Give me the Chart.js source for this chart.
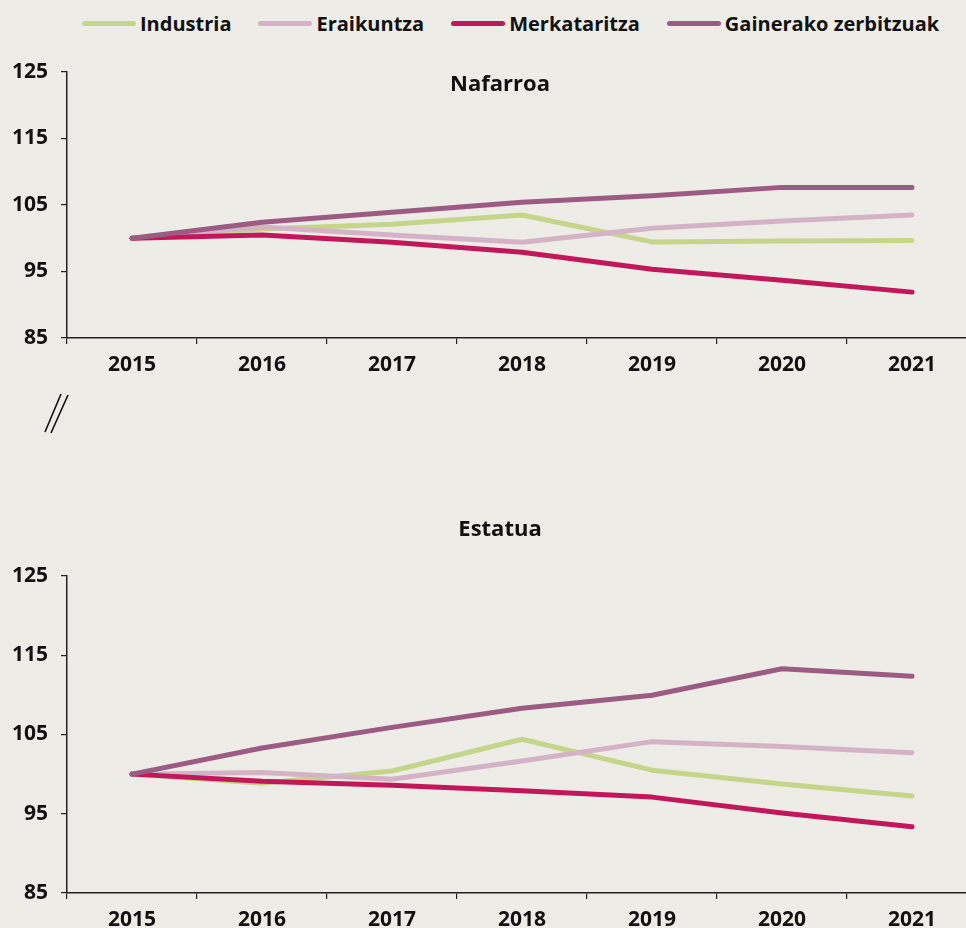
<!DOCTYPE html>
<html>
<head>
<meta charset="utf-8">
<script src="https://cdn.jsdelivr.net/npm/chart.js@4.4.0/dist/chart.umd.min.js"></script>
<style>
  html, body { margin: 0; padding: 0; background: #edece7; }
  body { width: 966px; height: 928px; overflow: hidden; position: relative; font-family: 'Open Sans', sans-serif; }
  #legend { position: absolute; top: 10px; left: 82px; width: 900px; display: flex; align-items: center; font-weight: bold; font-size: 20px; color: #111; white-space: nowrap; }
  #legend .item { display: flex; align-items: center; margin-right: 27px; flex-shrink: 0; }
  #legend .swatch { display: block; width: 54px; height: 5px; border-radius: 3px; margin-right: 4px; flex-shrink: 0; }
  canvas { position: absolute; left: 0; }
  #brk { position: absolute; left: 0; top: 380px; }
</style>
</head>
<body>
<div id="legend"></div>
<canvas id="nafarroa" width="990" height="358" style="top:20px"></canvas>
<canvas id="estatua" width="990" height="423" style="top:510px"></canvas>
<svg id="brk" width="100" height="60">
  <line x1="45" y1="52" x2="61" y2="14" stroke="#111" stroke-width="1.6"/>
  <line x1="51" y1="53" x2="68" y2="15" stroke="#111" stroke-width="1.6"/>
</svg>
<script>
'use strict';

// categories and series
const years = ['2015', '2016', '2017', '2018', '2019', '2020', '2021'];
const seriesNames = ['Industria', 'Eraikuntza', 'Merkataritza', 'Gainerako zerbitzuak'];
const seriesColors = ['#c5d68a', '#d4b3c7', '#c2185b', '#9b5b82'];

// Nafarroa
const nafIndustria = [100, 101.4, 102.1, 103.5, 99.45, 99.6, 99.65];
const nafEraikuntza = [100, 101.7, 100.5, 99.4, 101.5, 102.6, 103.5];
const nafMerkataritza = [100, 100.5, 99.4, 97.9, 95.35, 93.7, 91.9];
const nafGainerako = [100, 102.4, 103.9, 105.4, 106.4, 107.65, 107.65];

// Estatua
const estIndustria = [100, 98.85, 100.4, 104.4, 100.5, 98.75, 97.25];
const estEraikuntza = [100, 100.2, 99.35, 101.65, 104.1, 103.5, 102.7];
const estMerkataritza = [100, 99.1, 98.6, 97.9, 97.1, 95.1, 93.35];
const estGainerako = [100, 103.3, 105.9, 108.3, 109.95, 113.3, 112.35];

const yTicks = [85, 95, 105, 115, 125];

// legend
const legendEl = document.getElementById('legend');
seriesNames.forEach((name, i) => {
  const item = document.createElement('div');
  item.className = 'item';
  item.innerHTML = '<span class="swatch" style="background:' + seriesColors[i] + '"></span><span>' + name + '</span>';
  legendEl.appendChild(item);
});

// title inside the panel
const panelTitle = {
  id: 'panelTitle',
  afterDraw(chart, args, opts) {
    const c = chart.ctx;
    c.save();
    c.font = 'bold 22px "Open Sans"';
    c.fillStyle = '#111';
    c.textAlign = 'center';
    c.textBaseline = 'middle';
    c.fillText(opts.text, opts.x, opts.y);
    c.restore();
  }
};

const tickFont = { family: "'Open Sans'", weight: 'bold', size: 21 };

function makeDatasets(values) {
  return values.map((v, i) => ({
    label: seriesNames[i],
    data: v,
    borderColor: seriesColors[i],
    backgroundColor: seriesColors[i],
    borderWidth: 5,
    borderCapStyle: 'round',
    borderJoinStyle: 'round',
    pointRadius: 0,
    tension: 0,
    order: 4 - i
  }));
}

function makeChart(id, values, title, titleY, padTop) {
  return new Chart(document.getElementById(id), {
    type: 'line',
    data: { labels: years, datasets: makeDatasets(values) },
    options: {
      responsive: false,
      animation: false,
      layout: { padding: { top: padTop, right: 13, left: 0, bottom: 0 } },
      plugins: {
        legend: { display: false },
        tooltip: { enabled: false },
        panelTitle: { text: title, x: 500, y: titleY }
      },
      scales: {
        x: {
          offset: true,
          grid: { offset: true, drawOnChartArea: false, drawTicks: true, tickLength: 6, color: '#222', lineWidth: 1.2 },
          border: { display: true, color: '#222', width: 1.5 },
          ticks: { font: tickFont, color: '#111', padding: 8, maxRotation: 0 },
          afterFit(scale) { scale.height = 40; }
        },
        y: {
          min: 85,
          max: 125,
          afterBuildTicks(scale) { scale.ticks = yTicks.map(v => ({ value: v })); },
          grid: { drawOnChartArea: false, drawTicks: true, tickLength: 6, color: '#222', lineWidth: 1.2 },
          border: { display: true, color: '#222', width: 1.5 },
          ticks: { font: tickFont, color: '#111', padding: 13 },
          afterFit(scale) { scale.width = 67; }
        }
      }
    },
    plugins: [panelTitle]
  });
}

makeChart('nafarroa', [nafIndustria, nafEraikuntza, nafMerkataritza, nafGainerako], 'Nafarroa', 65, 52);
makeChart('estatua', [estIndustria, estEraikuntza, estMerkataritza, estGainerako], 'Estatua', 20, 66);
</script>
</body>
</html>
